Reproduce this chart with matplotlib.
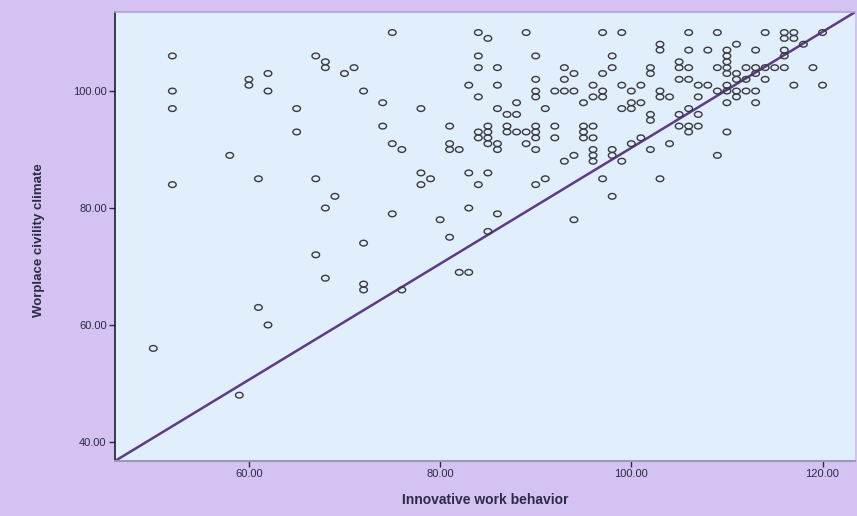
import matplotlib
matplotlib.use("Agg")
import matplotlib.pyplot as plt
from matplotlib.path import Path
from matplotlib.transforms import Affine2D

# scores, grouped by x column
behavior = [
    50, 52, 52, 52, 52, 58, 59, 60, 60, 61, 61, 62, 62, 62, 65, 65,
    67, 67, 67, 68, 68, 68, 68, 69, 70, 71, 72, 72, 72, 72, 74, 74,
    75, 75, 75, 76, 76, 78, 78, 78, 79, 80, 81, 81, 81, 81, 82, 82,
    83, 83, 83, 83,
    84, 84, 84, 84, 84, 84, 84,
    85, 85, 85, 85, 85, 85, 85,
    86, 86, 86, 86, 86, 86, 87, 87, 87, 88, 88, 88, 89, 89, 89,
    90, 90, 90, 90, 90, 90, 90, 90, 90,
    91, 91, 92, 92, 92, 93, 93, 93, 93, 94, 94, 94, 94, 95, 95, 95, 95,
    96, 96, 96, 96, 96, 96, 96,
    97, 97, 97, 97, 97, 98, 98, 98, 98, 98, 99, 99, 99, 99,
    100, 100, 100, 100, 101, 101, 101, 102, 102, 102, 102, 102,
    103, 103, 103, 103, 103, 104, 104, 105, 105, 105, 105, 105,
    106, 106, 106, 106, 106, 106, 106, 107, 107, 107, 107, 108, 108,
    109, 109, 109, 109,
    110, 110, 110, 110, 110, 110, 110, 110, 110,
    111, 111, 111, 111, 111, 112, 112, 112, 113, 113, 113, 113, 113,
    114, 114, 114, 115, 116, 116, 116, 116, 116, 117, 117, 117,
    118, 119, 120, 120,
]
climate = [
    56, 106, 100, 97, 84, 89, 48, 102, 101, 85, 63, 103, 100, 60, 97, 93,
    106, 85, 72, 105, 104, 80, 68, 82, 103, 104, 100, 74, 67, 66, 98, 94,
    91, 110, 79, 90, 66, 97, 86, 84, 85, 78, 94, 91, 90, 75, 90, 69,
    69, 101, 86, 80,
    110, 106, 104, 99, 93, 92, 84,
    109, 94, 93, 92, 91, 86, 76,
    104, 101, 97, 91, 90, 79, 96, 94, 93, 98, 96, 93, 110, 93, 91,
    106, 102, 100, 99, 94, 93, 92, 90, 84,
    97, 85, 100, 94, 92, 104, 102, 100, 88, 103, 100, 89, 78, 98, 94, 93, 92,
    101, 99, 94, 92, 90, 89, 88,
    110, 103, 100, 99, 85, 106, 104, 90, 89, 82, 110, 101, 97, 88,
    100, 98, 97, 91, 101, 98, 92, 104, 103, 96, 95, 90,
    108, 107, 100, 99, 85, 99, 91, 105, 104, 102, 96, 94,
    110, 107, 104, 102, 97, 94, 93, 101, 99, 96, 94, 107, 101,
    110, 104, 100, 89,
    107, 106, 105, 104, 103, 101, 100, 98, 93,
    108, 103, 102, 100, 99, 104, 102, 100, 107, 104, 103, 100, 98,
    110, 104, 102, 104, 110, 109, 107, 106, 104, 110, 109, 101,
    108, 104, 110, 101,
]

# reference line drawn by SPSS
line_slope = 0.9915
line_intercept = -8.86

x_ticks = [60, 80, 100, 120]
y_ticks = [40, 60, 80, 100]
x_label = "Innovative work behavior"
y_label = "Worplace civility climate"

fig = plt.figure(figsize=(8.57, 5.16), dpi=100, facecolor="#d4c3f2")
ax = fig.add_axes([0.1342, 0.1066, 0.8635, 0.870])
ax.set_facecolor("#e1eefb")

oval = Path.unit_circle().transformed(Affine2D().scale(1.0, 0.75))
ax.axline((0, line_intercept), slope=line_slope, color="#5e3a86", lw=1.8, zorder=2)
ax.scatter(behavior, climate, marker=oval, s=30, facecolors="none",
           edgecolors="#3a3a40", linewidths=1.0, zorder=3)

ax.set_xlim(46.0, 123.4)
ax.set_ylim(36.75, 113.5)
ax.set_xticks(x_ticks)
ax.set_yticks(y_ticks)
ax.set_xticklabels(["%.2f" % v for v in x_ticks])
ax.set_yticklabels(["%.2f" % v for v in y_ticks])
ax.tick_params(axis="both", direction="out", length=4, width=1, colors="#2b2b45",
               labelsize=8, pad=2)
for lab in ax.get_xticklabels() + ax.get_yticklabels():
    lab.set_family(["Liberation Sans", "DejaVu Sans"])

ax.spines["left"].set_color("#1e1e30")
ax.spines["left"].set_linewidth(1.2)
ax.spines["bottom"].set_color("#9a9ab2")
ax.spines["bottom"].set_linewidth(1.5)
ax.spines["top"].set_color("#b2a0dc")
ax.spines["top"].set_linewidth(1.2)
ax.spines["right"].set_visible(False)

fig.text(0.566, 0.031, x_label, ha="center", va="center", fontsize=10,
         fontweight="bold", color="#2b2b45", family=["Liberation Sans", "DejaVu Sans"])
fig.text(0.045, 0.535, y_label, ha="center", va="center", rotation=90, fontsize=9.5,
         fontweight="bold", color="#2b2b45",
         family=["Liberation Sans Narrow", "Liberation Sans", "DejaVu Sans"])

fig.savefig("out.png", dpi=100, facecolor=fig.get_facecolor())
